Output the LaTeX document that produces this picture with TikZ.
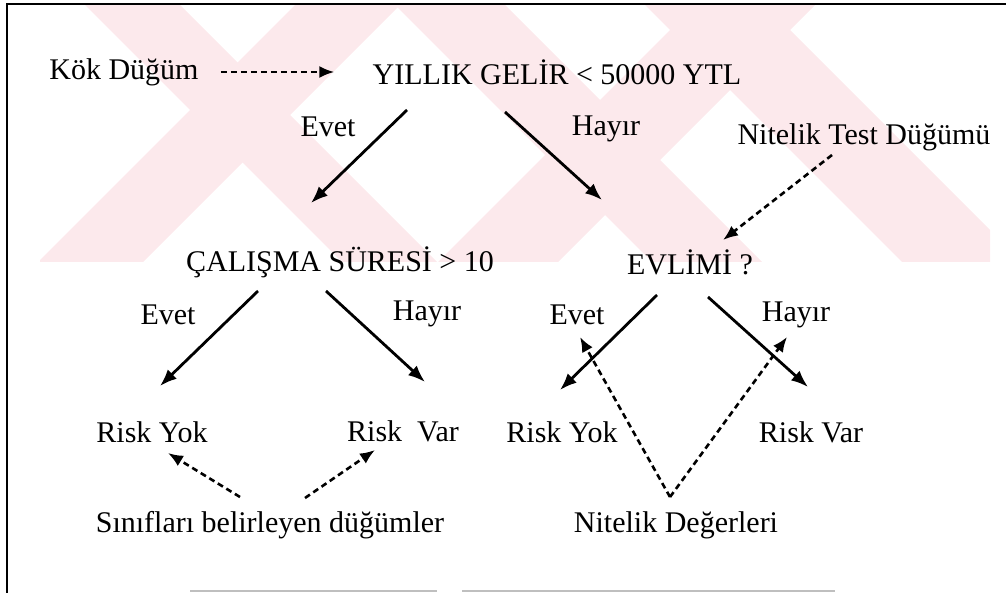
\documentclass[tikz,border=0pt]{standalone}
\usepackage{fontspec}
\setmainfont{Liberation Serif}
\usetikzlibrary{arrows.meta,positioning}
\definecolor{wmpink}{RGB}{252,233,236}

\begin{document}
\begin{tikzpicture}[x=0.5pt,y=-0.5pt]
\tikzstyle{lbl} = [inner sep=1pt, font=\fontsize{15}{17}\selectfont];
\tikzstyle{branch} = [-{Latex[length=8.5pt,width=6.5pt]}, line width=1.4pt];
\tikzstyle{pointer} = [-{Latex[length=7.5pt,width=6pt]}, line width=1.3pt, dash pattern=on 3pt off 2pt];

\useasboundingbox (0,0) rectangle (1006,593);

% faint stripes behind the tree
\begin{scope}
\clip (40,5) rectangle (990,262);
\foreach \a/\b in {80/175, 390/500, 640/760}
  \fill[wmpink] (\a+5,5) -- (\b+5,5) -- (\b+262,262) -- (\a+262,262) -- cycle;
\foreach \a/\b in {300/405, 700/820}
  \fill[wmpink] (\a-5,5) -- (\b-5,5) -- (\b-262,262) -- (\a-262,262) -- cycle;
\end{scope}

% frame
\draw[line width=1.2pt] (7,593) -- (7,4) -- (1006,4);
\draw[gray!50, line width=0.8pt] (190,591) -- (437,591) (462,591) -- (835,591);

% tree
\node[lbl] (kok) at (124,72) {Kök Düğüm};
\node[lbl] (gelir) at (557,72) {YILLIK GELİR < 50000 YTL};
\node[lbl] (evet1) at (328,127) {Evet};
\node[lbl] (hayir1) at (606,129) {Hayır};
\node[lbl] (test) at (864,137) {Nitelik Test Düğümü};
\node[lbl] (calisma) at (340,262) {ÇALIŞMA SÜRESİ > 10};
\node[lbl] (evli) at (690,262) {EVLİMİ ?};

\node[lbl] (evet2) at (168,315) {Evet};
\node[lbl] (hayir2) at (427,314) {Hayır};
\node[lbl] (evet3) at (577,315) {Evet};
\node[lbl] (hayir3) at (796,315) {Hayır};

\node[lbl] (yok1) at (152,432) {Risk Yok};
\node[lbl] (var1) at (403,431) {Risk~~Var};
\node[lbl] (yok2) at (562,432) {Risk Yok};
\node[lbl] (var2) at (811,432) {Risk Var};

\node[lbl] (sinif) at (270,525) {Sınıfları belirleyen düğümler};
\node[lbl] (deger) at (676,525) {Nitelik Değerleri};

% arrow ends
\coordinate (gelir-l) at (407,110);
\coordinate (gelir-r) at (505,112);
\coordinate (calisma-t) at (311,203);
\coordinate (evli-t) at (602,200);
\coordinate (calisma-l) at (258,291);
\coordinate (calisma-r) at (326,291);
\coordinate (evli-l) at (657,295);
\coordinate (evli-r) at (708,297);
\coordinate (yok1-t) at (160,386);
\coordinate (var1-t) at (425,382);
\coordinate (yok2-t) at (560,390);
\coordinate (var2-t) at (808,387);
\coordinate (test-b) at (832,155);
\coordinate (evli-n) at (723,240);
\coordinate (sinif-l) at (240,497);
\coordinate (sinif-r) at (305,498);
\coordinate (yok1-b) at (168,453);
\coordinate (var1-b) at (375,450);
\coordinate (deger-v) at (670,497);
\coordinate (evet3-b) at (580,337);
\coordinate (hayir3-b) at (787,337);

\draw[pointer, shorten <=10pt, shorten >=18pt] (kok) -- (gelir);
\draw[branch] (gelir-l) -- (calisma-t);
\draw[branch] (gelir-r) -- (evli-t);
\draw[branch] (calisma-l) -- (yok1-t);
\draw[branch] (calisma-r) -- (var1-t);
\draw[branch] (evli-l) -- (yok2-t);
\draw[branch] (evli-r) -- (var2-t);

\draw[pointer] (test-b) -- (evli-n);
\draw[pointer] (sinif-l) -- (yok1-b);
\draw[pointer] (sinif-r) -- (var1-b);
\draw[pointer] (deger-v) -- (evet3-b);
\draw[pointer] (deger-v) -- (hayir3-b);
\end{tikzpicture}
\end{document}
